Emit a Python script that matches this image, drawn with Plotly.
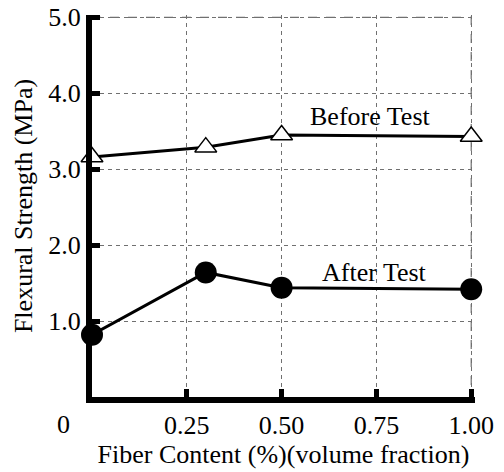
import plotly.graph_objects as go

fiber = [0.0, 0.3, 0.5, 1.0]
before_test = [3.16, 3.29, 3.45, 3.43]
after_test = [0.82, 1.64, 1.44, 1.42]
x_ticks = [0.25, 0.5, 0.75, 1.0]
x_ticktext = ["0.25", "0.50", "0.75", "1.00"]
y_ticks = [1, 2, 3, 4, 5]
y_ticktext = ["1.0", "2.0", "3.0", "4.0", "5.0"]

FONT = "Liberation Serif"
FS = 26
GRID = "#707070"

fig = go.Figure()

# boundary gridlines (top and right), derived from the last tick values
fig.add_trace(go.Scatter(
    x=[0, x_ticks[-1], x_ticks[-1]], y=[y_ticks[-1], y_ticks[-1], 0],
    mode="lines", hoverinfo="skip", showlegend=False,
    line=dict(color=GRID, width=1.2, dash="dash"),
    cliponaxis=False,
))
fig.add_trace(go.Scatter(
    x=fiber, y=before_test, mode="lines+markers", name="Before Test",
    line=dict(color="black", width=3),
    marker=dict(symbol="triangle-up", size=19, color="white",
                line=dict(color="black", width=1.5)),
    cliponaxis=False,
))
fig.add_trace(go.Scatter(
    x=fiber, y=after_test, mode="lines+markers", name="After Test",
    line=dict(color="black", width=3),
    marker=dict(symbol="circle", size=22, color="black"),
    cliponaxis=False,
))

fig.add_annotation(x=0.733, y=3.70, xref="x", yref="y", text="Before Test",
                   showarrow=False, font=dict(family=FONT, size=FS, color="black"))
fig.add_annotation(x=0.744, y=1.645, xref="x", yref="y", text="After Test",
                   showarrow=False, font=dict(family=FONT, size=FS, color="black"))
fig.add_annotation(x=-0.0757, y=-0.0707, xref="paper", yref="paper", text="0",
                   xanchor="center", yanchor="middle",
                   showarrow=False, font=dict(family=FONT, size=FS, color="black"))

fig.update_layout(
    width=504, height=472,
    margin=dict(l=92, r=29, t=15, b=75),
    paper_bgcolor="white", plot_bgcolor="white",
    showlegend=False,
    font=dict(family=FONT, size=FS, color="black"),
    xaxis=dict(
        range=[0, 1.01], tickvals=x_ticks, ticktext=x_ticktext,
        showline=True, linecolor="black", linewidth=6,
        ticks="inside", ticklen=8, tickwidth=5, tickcolor="black",
        showgrid=True, gridcolor=GRID, gridwidth=1, griddash="4px,4px",
        zeroline=False, automargin=False, ticklabelstandoff=0,
        title=dict(text="Fiber Content (%)(volume fraction)", standoff=0,
                   font=dict(family=FONT, size=FS)),
        tickfont=dict(family=FONT, size=FS),
    ),
    yaxis=dict(
        range=[0, 5.03], tickvals=y_ticks, ticktext=y_ticktext,
        showline=True, linecolor="black", linewidth=6,
        ticks="inside", ticklen=8, tickwidth=5, tickcolor="black",
        showgrid=True, gridcolor=GRID, gridwidth=1, griddash="4px,4px",
        zeroline=False, automargin=False,
        title=dict(text="Flexural Strength (MPa)", standoff=10,
                   font=dict(family=FONT, size=FS)),
        tickfont=dict(family=FONT, size=FS),
    ),
)

fig.write_html("out.html")
